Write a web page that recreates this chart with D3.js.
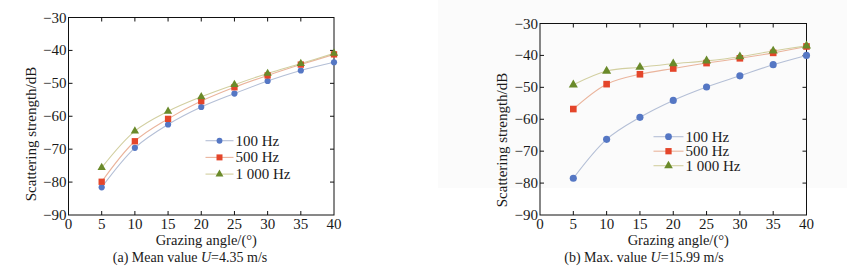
<!DOCTYPE html>
<html>
<head>
<meta charset="utf-8">
<script src="https://cdn.jsdelivr.net/npm/d3@7"></script>
<style>
  body { margin: 0; background: #fff; }
  svg { font-family: "Liberation Serif", "Times New Roman", Times, serif; }
  text { fill: #1a1a1a; }
</style>
</head>
<body>
<svg id="chart" width="847" height="273"></svg>
<script>
// grazing angles (deg)
const angles = [5, 10, 15, 20, 25, 30, 35, 40];
const xTicks = [0, 5, 10, 15, 20, 25, 30, 35, 40];
const yTicks = [-30, -40, -50, -60, -70, -80, -90];
const seriesNames = ["100 Hz", "500 Hz", "1 000 Hz"];

// (a) mean wind speed U=4.35 m/s
const meanHz100 = [-81.6, -69.6, -62.5, -57.2, -53.1, -49.3, -46.1, -43.6];
const meanHz500 = [-79.9, -67.6, -60.8, -55.4, -51.2, -47.6, -44.3, -41.2];
const meanHz1000 = [-75.6, -64.5, -58.5, -54.1, -50.4, -47.0, -44.0, -40.9];

// (b) max wind speed U=15.99 m/s
const maxHz100 = [-78.5, -66.3, -59.4, -54.1, -49.9, -46.4, -42.9, -40.0];
const maxHz500 = [-56.8, -49.0, -45.9, -44.1, -42.4, -40.9, -39.2, -37.2];
const maxHz1000 = [-49.2, -44.9, -43.7, -42.6, -41.7, -40.4, -38.6, -37.0];

const markerCol = ["#5577c4", "#e4452a", "#6a8a2a"];
const lineCol = ["#b4bfd6", "#eab49c", "#d2cfa0"];
const shapes = [d3.symbolCircle, d3.symbolSquare, d3.symbolTriangle];

const svg = d3.select("#chart");

// faint scan background on the right half
svg.append("rect").attr("x", 438).attr("y", 0).attr("width", 409).attr("height", 188)
  .attr("fill", "#fbfbfb");

const drawPanel = (cfg) => {
  const { left, right, top, bottom, series, caption, capItalicPre, capItalicPost, captionX, legend, mSize } = cfg;

  const x = d3.scaleLinear().domain([0, 40]).range([left, right]);
  const y = d3.scaleLinear().domain([-90, -30]).range([bottom, top]);

  const g = svg.append("g");

  // frame
  g.append("rect")
    .attr("x", left).attr("y", top)
    .attr("width", right - left).attr("height", bottom - top)
    .attr("fill", "none").attr("stroke", "#111").attr("stroke-width", 1);

  // inward ticks on all four sides
  const tk = 4;
  xTicks.slice(1, -1).forEach((t) => {
    g.append("line").attr("x1", x(t)).attr("x2", x(t)).attr("y1", bottom).attr("y2", bottom - tk).attr("stroke", "#111");
    g.append("line").attr("x1", x(t)).attr("x2", x(t)).attr("y1", top).attr("y2", top + tk).attr("stroke", "#111");
  });
  yTicks.slice(1, -1).forEach((t) => {
    g.append("line").attr("x1", left).attr("x2", left + tk).attr("y1", y(t)).attr("y2", y(t)).attr("stroke", "#111");
    g.append("line").attr("x1", right).attr("x2", right - tk).attr("y1", y(t)).attr("y2", y(t)).attr("stroke", "#111");
  });

  // tick labels
  g.selectAll(".xl").data(xTicks).enter().append("text")
    .attr("x", (d) => x(d)).attr("y", bottom + 14)
    .attr("text-anchor", "middle").attr("font-size", 15)
    .text((d) => d);
  g.selectAll(".yl").data(yTicks).enter().append("text")
    .attr("x", left - 2).attr("y", (d) => y(d) + 5)
    .attr("text-anchor", "end").attr("font-size", 15)
    .text((d) => "\u2212" + Math.abs(d));

  // axis titles
  g.append("text")
    .attr("x", (left + right) / 2 + 5).attr("y", bottom + 30)
    .attr("text-anchor", "middle").attr("font-size", 14.5)
    .text("Grazing angle/(°)");
  g.append("text")
    .attr("transform", `translate(${left - 33},${cfg.yTitleY}) rotate(-90)`)
    .attr("text-anchor", "middle").attr("font-size", 15)
    .text("Scattering strength/dB");

  // caption
  const cap = g.append("text")
    .attr("x", captionX).attr("y", 262)
    .attr("text-anchor", "middle").attr("font-size", 14);
  cap.append("tspan").text(caption);
  cap.append("tspan").attr("font-style", "italic").text(capItalicPre);
  cap.append("tspan").text(capItalicPost);

  // series
  const line = d3.line()
    .x((d, i) => x(angles[i]))
    .y((d) => y(d))
    .curve(d3.curveCatmullRom.alpha(0.5));

  series.forEach((vals, k) => {
    g.append("path").attr("d", line(vals))
      .attr("fill", "none").attr("stroke", lineCol[k]).attr("stroke-width", 1.1);
  });
  series.forEach((vals, k) => {
    g.selectAll(null).data(vals).enter().append("path")
      .attr("transform", (d, i) => `translate(${x(angles[i])},${y(d)})`)
      .attr("d", d3.symbol().type(shapes[k]).size(mSize[k]))
      .attr("fill", markerCol[k]);
  });

  // legend
  seriesNames.forEach((name, k) => {
    const ly = legend.y + k * legend.dy;
    g.append("line")
      .attr("x1", legend.x).attr("x2", legend.x + legend.w)
      .attr("y1", ly).attr("y2", ly)
      .attr("stroke", lineCol[k]).attr("stroke-width", 1.1);
    g.append("path")
      .attr("transform", `translate(${legend.x + legend.w / 2},${ly})`)
      .attr("d", d3.symbol().type(shapes[k]).size(mSize[k] * 0.9))
      .attr("fill", markerCol[k]);
    g.append("text")
      .attr("x", legend.x + legend.w + 2).attr("y", ly + 5)
      .attr("font-size", 15)
      .text(name);
  });
};

drawPanel({
  left: 68.5, right: 334, top: 17.5, bottom: 215,
  series: [meanHz100, meanHz500, meanHz1000],
  caption: "(a) Mean value ", capItalicPre: "U", capItalicPost: "=4.35 m/s",
  captionX: 190, yTitleY: 134,
  legend: { x: 205.5, w: 28, y: 140.7, dy: 16.7 },
  mSize: [30, 40, 30],
});

drawPanel({
  left: 540, right: 806.5, top: 23.5, bottom: 215,
  series: [maxHz100, maxHz500, maxHz1000],
  caption: "(b) Max. value ", capItalicPre: "U", capItalicPost: "=15.99 m/s",
  captionX: 644, yTitleY: 140,
  legend: { x: 653.5, w: 30, y: 136.7, dy: 14.5 },
  mSize: [40, 44, 36],
});
</script>
</body>
</html>
